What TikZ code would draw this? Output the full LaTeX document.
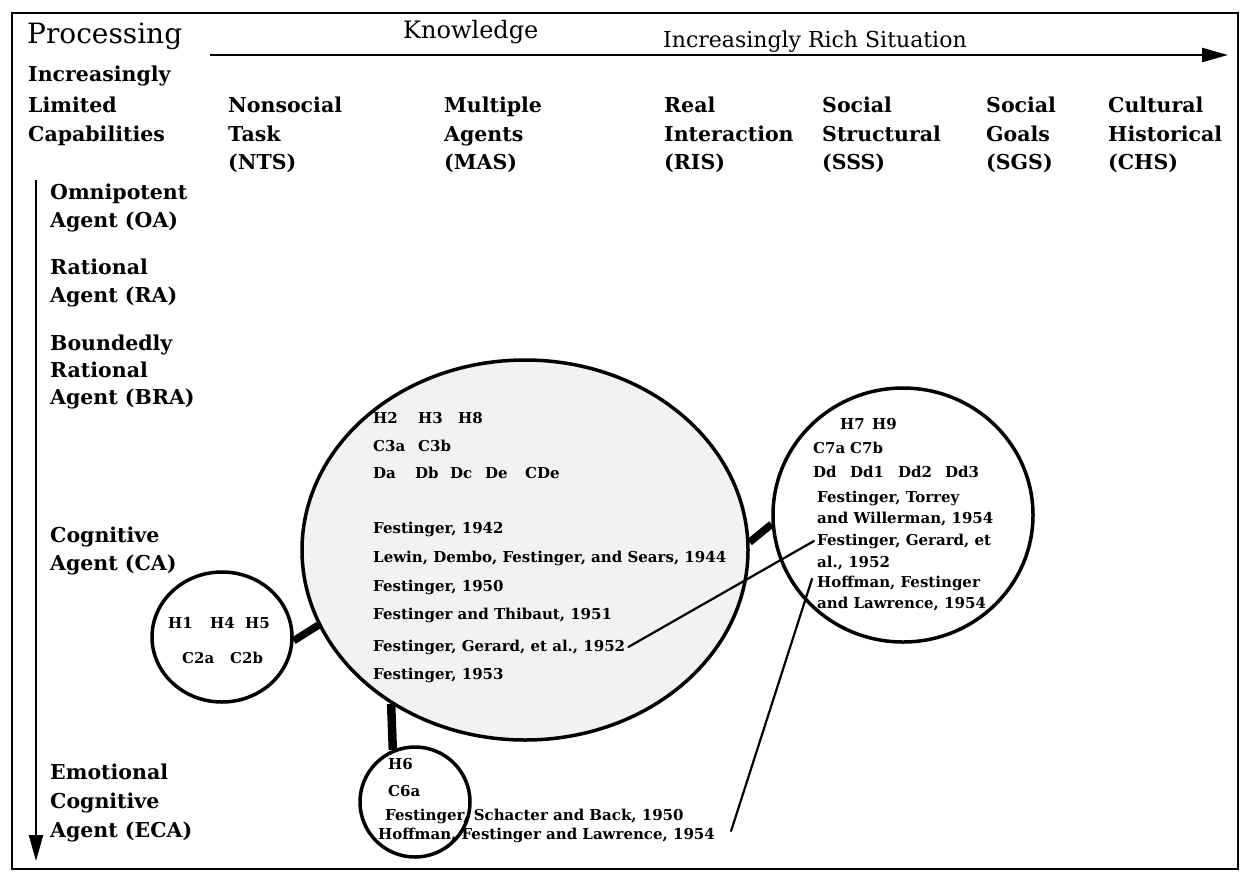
\documentclass[tikz,border=0pt]{standalone}
\usepackage{fontspec}
\setmainfont{DejaVu Serif}
\usetikzlibrary{arrows.meta,shapes.geometric}
\begin{document}
\begin{tikzpicture}[x=1pt,y=-1pt,
  txt/.style={inner sep=0pt, anchor=base west},
  body/.style={txt, font=\fontsize{15}{18}\selectfont\bfseries},
  hdr/.style={txt, font=\fontsize{20.5}{24}\selectfont\bfseries},
  lab/.style={txt, font=\fontsize{20.5}{24}\selectfont\bfseries},
  bigtitle/.style={txt, font=\fontsize{28}{30}\selectfont},
  midtitle/.style={txt, font=\fontsize{24}{26}\selectfont},
  subtitle/.style={txt, font=\fontsize{22}{24}\selectfont},
  bubble/.style={draw, line width=3.5pt, ellipse, inner sep=0pt, fill=white},
  link/.style={line width=7.5pt},
  thinlink/.style={line width=2.2pt, line cap=round},
  axis/.style={line width=2.4pt, -{Triangle[length=26pt,width=14pt]}}
]
\useasboundingbox (0,0) rectangle (1249,879);
\draw[line width=1.6pt] (12,13) rectangle (1238,869);

% titles and axes
\node[bigtitle] (proc) at (27,43) {Processing};
\node[midtitle] (know) at (403,38) {Knowledge};
\node[subtitle] (rich) at (663,47) {Increasingly Rich Situation};
\coordinate (ka) at (210,55);
\coordinate (kb) at (1228,55);
\draw[axis] (ka) -- (kb);
\coordinate (pa) at (36,180);
\coordinate (pb) at (36,861);
\draw[axis] (pa) -- (pb);

% left column heading
\node[hdr] (inc) at (28,81) {Increasingly};
\node[hdr] (lim) at (28,112) {Limited};
\node[hdr] (cap) at (28,141) {Capabilities};

% column headers
\foreach \n/\x/\a/\b/\c in {nts/228/Nonsocial/Task/(NTS), mas/444/Multiple/Agents/(MAS),
  ris/664/Real/Interaction/(RIS), sss/822/Social/Structural/(SSS),
  sgs/986/Social/Goals/(SGS), chs/1108/Cultural/Historical/(CHS)}{
  \node[hdr] (\n1) at (\x,112) {\a};
  \node[hdr] (\n2) at (\x,141) {\b};
  \node[hdr] (\n3) at (\x,169) {\c};
}

% row labels
\node[lab] (oa1) at (50,199) {Omnipotent};
\node[lab] (oa2) at (50,227) {Agent (OA)};
\node[lab] (ra1) at (50,274) {Rational};
\node[lab] (ra2) at (50,302) {Agent (RA)};
\node[lab] (bra1) at (50,350) {Boundedly};
\node[lab] (bra2) at (50,377) {Rational};
\node[lab] (bra3) at (50,404) {Agent (BRA)};
\node[lab] (ca1) at (50,542) {Cognitive};
\node[lab] (ca2) at (50,570) {Agent (CA)};
\node[lab] (eca1) at (50,779) {Emotional};
\node[lab] (eca2) at (50,808) {Cognitive};
\node[lab] (eca3) at (50,837) {Agent (ECA)};

% bubbles
\node[bubble, minimum width=140pt, minimum height=130pt] (cl) at (222,637) {};
\node[bubble, fill=black!5, minimum width=446pt, minimum height=380pt] (cb) at (525,550) {};
\node[bubble, minimum width=260pt, minimum height=254pt] (cr) at (903,515) {};
\node[bubble, minimum width=110pt, minimum height=110pt] (cd) at (415,802) {};

% thick links
\draw[link] (cl.357.5) -- (cb.200.6);
\draw[link, line width=8.5pt] (cb.229.2) -- (cd.113.7);
\draw[link] (cb.2) -- (cr.184.5);

% big bubble text
\node[body] (b1) at (373,423) {\makebox[45pt][l]{H2}\makebox[40pt][l]{H3}H8};
\node[body] (b2) at (373,451) {\makebox[45pt][l]{C3a}C3b};
\node[body] (b3) at (373,478) {\makebox[42pt][l]{Da}\makebox[35pt][l]{Db}\makebox[35pt][l]{Dc}\makebox[40pt][l]{De}CDe};
\node[body] (b4) at (373,533) {Festinger, 1942};
\node[body] (b5) at (373,562) {Lewin, Dembo, Festinger, and Sears, 1944};
\node[body] (b6) at (373,591) {Festinger, 1950};
\node[body] (b7) at (373,619) {Festinger and Thibaut, 1951};
\node[body] (b8) at (373,651) {Festinger, Gerard, et al., 1952};
\node[body] (b9) at (373,679) {Festinger, 1953};

% right bubble text
\node[body] (r1) at (840,429) {\makebox[32pt][l]{H7}H9};
\node[body] (r2) at (813,453) {\makebox[37pt][l]{C7a}C7b};
\node[body] (r3) at (813,477) {\makebox[37pt][l]{Dd}\makebox[48pt][l]{Dd1}\makebox[47pt][l]{Dd2}Dd3};
\node[body] (r4) at (817,502) {Festinger, Torrey};
\node[body] (r5) at (817,523) {and Willerman, 1954};
\node[body] (r6) at (817,545) {Festinger, Gerard, et};
\node[body] (r7) at (817,567) {al., 1952};
\node[body] (r8) at (817,587) {Hoffman, Festinger};
\node[body] (r9) at (817,608) {and Lawrence, 1954};

% left bubble text
\node[body] (l1) at (168,628) {\makebox[42pt][l]{H1}\makebox[35pt][l]{H4}H5};
\node[body] (l2) at (182,663) {\makebox[48pt][l]{C2a}C2b};

% bottom bubble text
\node[body] (d1) at (388,769) {H6};
\node[body] (d2) at (388,796) {C6a};
\node[body] (d3) at (385,820) {Festinger, Schacter and Back, 1950};
\node[body] (d4) at (378,839) {Hoffman, Festinger and Lawrence, 1954};

% thin links
\draw[thinlink] ([xshift=3pt]b8.east) -- ([xshift=-3pt]r6.west);
\draw[thinlink] ([xshift=-5pt,yshift=4pt]r8.west) -- ([xshift=16pt,yshift=4pt]d4.east);
\end{tikzpicture}
\end{document}
